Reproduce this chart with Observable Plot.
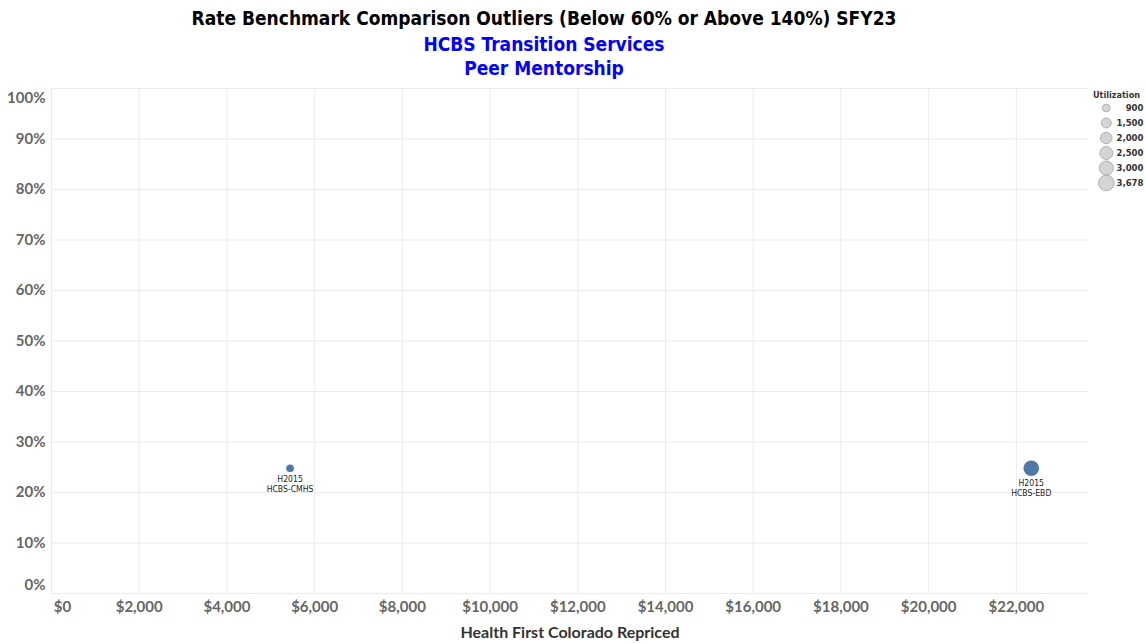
<!DOCTYPE html>
<html>
<head>
<meta charset="utf-8">
<script src="https://cdn.jsdelivr.net/npm/d3@7"></script>
<script src="https://cdn.jsdelivr.net/npm/@observablehq/plot@0.6"></script>
<style>
  html, body { margin: 0; padding: 0; background: #fff; }
  #wrap { position: relative; width: 1146px; height: 643px; overflow: hidden; font-family: "DejaVu Sans Condensed", "DejaVu Sans", sans-serif; }
  .t { position: absolute; left: 0; width: 1088px; text-align: center; font-weight: bold; font-size: 19px; line-height: 24px; }
  #t1 { top: 6px; color: #000; }
  #t2 { top: 32px; color: #0000ff; }
  #t3 { top: 56px; color: #0000ff; }
  #chart { position: absolute; left: 0; top: 80px; }
  #legend { position: absolute; left: 1086px; top: 86px; }
  #xlab { position: absolute; left: 0; width: 1140px; top: 622px; text-align: center; font-family: Lato, sans-serif; font-weight: bold; font-size: 16px; color: #333; }
</style>
</head>
<body>
<div id="wrap">
  <div class="t" id="t1">Rate Benchmark Comparison Outliers (Below 60% or Above 140%) SFY23</div>
  <div class="t" id="t2">HCBS Transition Services</div>
  <div class="t" id="t3">Peer Mentorship</div>
  <div id="chart"></div>
  <div id="legend"></div>
  <div id="xlab">Health First Colorado Repriced</div>
</div>
<script>
// ---- data ----
const procCodes = ["H2015", "H2015"];
const programs = ["HCBS-CMHS", "HCBS-EBD"];
const repriced = [5440, 22340];
const benchmarkPct = [0.248, 0.248];
const utilization = [900, 3678];

const xTicks = [0, 2000, 4000, 6000, 8000, 10000, 12000, 14000, 16000, 18000, 20000, 22000];
const yTicks = [0, 0.1, 0.2, 0.3, 0.4, 0.5, 0.6, 0.7, 0.8, 0.9, 1.0];
const legendValues = [900, 1500, 2000, 2500, 3000, 3678];

const data = procCodes.map((c, i) => ({
  code: c, program: programs[i], x: repriced[i], y: benchmarkPct[i], u: utilization[i]
}));

const pctFmt = d3.format(".0%");
const dolFmt = d => "$" + d3.format(",")(d);
const rMax = 7.8;
const rScale = {type: "sqrt", domain: [0, 3678], range: [0, rMax]};
const rFn = d3.scaleSqrt().domain([0, 3678]).range([0, rMax]);
const tickFont = "Lato, sans-serif";
const axisStyle = {tickSize: 0, label: null, fontSize: 15, fontWeight: "bold", fill: "#666"};

// one label mark per point so the offset follows the dot radius
const labelMarks = data.map(d => Plot.text([d], {
  x: "x", y: "y",
  text: r => r.code + "\n" + r.program,
  lineAnchor: "top",
  dy: rFn(d.u) + 2,
  fontSize: 8.6,
  lineHeight: 1.22,
  fill: "#222",
  fontFamily: "DejaVu Sans Condensed, sans-serif"
}));

const chart = Plot.plot({
  width: 1146,
  height: 563,
  marginTop: 8,
  marginBottom: 50,
  marginLeft: 51,
  marginRight: 58,
  style: {fontFamily: tickFont, background: "#fff"},
  x: {domain: [0, 23645]},
  y: {domain: [0, 1]},
  r: rScale,
  marks: [
    Plot.gridX(xTicks, {stroke: "#ebebeb", strokeOpacity: 1}),
    Plot.gridY(yTicks, {stroke: "#ebebeb", strokeOpacity: 1}),
    Plot.axisY(yTicks.filter(d => d > 0 && d < 1), {...axisStyle, tickPadding: 6, tickFormat: pctFmt}),
    Plot.axisY([0], {...axisStyle, tickPadding: 6, tickFormat: pctFmt, dy: -8}),
    Plot.axisY([1], {...axisStyle, tickPadding: 6, tickFormat: pctFmt, dy: 10}),
    Plot.axisX(xTicks.filter(d => d > 0), {...axisStyle, tickPadding: 8, tickFormat: dolFmt}),
    Plot.axisX([0], {...axisStyle, tickPadding: 8, tickFormat: dolFmt, dx: 11}),
    Plot.dot(data, {x: "x", y: "y", r: "u", fill: "#4e79a7", stroke: "none"}),
    ...labelMarks
  ]
});
document.getElementById("chart").appendChild(chart);

// legend
const legendData = legendValues.map(v => ({v, label: d3.format(",")(v)}));
const legend = Plot.plot({
  width: 60,
  height: 108,
  marginTop: 12.2,
  marginBottom: 2.2,
  marginLeft: 0,
  marginRight: 0,
  style: {fontFamily: "DejaVu Sans Condensed, sans-serif", background: "transparent"},
  x: {domain: [0, 1], axis: null},
  y: {type: "band", domain: legendValues, axis: null, padding: 0},
  r: rScale,
  marks: [
    Plot.text(["Utilization"], {frameAnchor: "top", dy: -7, text: d => d, fontSize: 9, fontWeight: "bold", fill: "#333"}),
    Plot.dot(legendData, {x: () => 0.33, y: "v", r: "v", fill: "#d4d4d4", stroke: "#b0b0b0", strokeWidth: 1}),
    Plot.text(legendData, {x: () => 0.95, y: "v", text: "label", textAnchor: "end", fontSize: 9.5, fontWeight: "bold", fill: "#333"})
  ]
});
document.getElementById("legend").appendChild(legend);
</script>
</body>
</html>
